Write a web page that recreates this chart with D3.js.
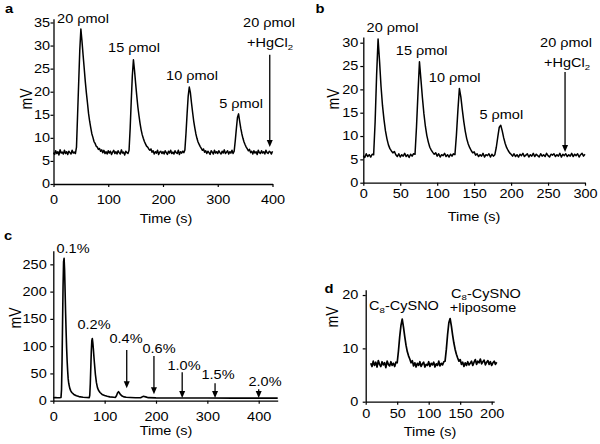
<!DOCTYPE html>
<html><head><meta charset="utf-8">
<script src="https://cdn.jsdelivr.net/npm/d3@7"></script>
<style>
body{margin:0;background:#fff}
svg{display:block}
text{font-family:"Liberation Sans",Arial,Helvetica,sans-serif;fill:#000}
</style>
</head><body>
<svg id="fig" width="600" height="444"></svg>
<script>
// ---------------- DATA ----------------
// Panel a: sampling every 2 s from 0 to 400 s (mV)
const aStart = 0, aStep = 2;
const aValues = [
 6.8,6.4,7.2,6.6,7.0,6.3,7.4,6.7,6.9,6.5,
 7.3,6.6,7.0,6.4,7.1,6.8,6.5,7.3,6.7,6.9,
 6.6,8.0,15.0,22.0,29.0,33.6,31.0,28.0,25.2,22.3,
 19.8,17.6,15.3,13.6,12.2,10.9,10.1,9.2,8.8,8.2,
 8.0,7.5,7.7,7.1,7.4,6.8,7.3,6.6,7.0,6.5,
 7.2,6.7,7.1,6.4,6.9,7.3,6.6,7.0,6.5,7.2,
 6.8,6.5,7.4,6.7,6.9,6.3,7.1,6.8,6.6,7.3,
 12.0,18.0,23.5,26.9,24.6,21.8,19.2,16.8,14.9,13.2,
 11.8,10.7,9.9,9.2,8.7,8.2,8.0,7.6,7.3,7.6,
 6.9,7.2,6.5,7.0,6.7,7.3,6.4,6.9,7.1,6.6,
 7.0,6.5,7.2,6.8,6.4,7.1,6.7,7.3,6.6,6.9,
 6.5,7.2,6.8,6.6,7.3,6.4,7.0,6.7,7.1,6.8,
 7.4,11.0,15.2,19.0,21.0,19.8,17.6,15.6,13.7,12.2,
 10.9,9.9,9.1,8.6,8.1,7.7,7.3,7.6,6.9,7.2,
 6.6,7.1,6.8,6.4,7.2,6.9,6.5,7.3,6.7,7.0,
 6.6,7.2,6.8,6.5,7.1,6.7,7.4,6.6,6.9,7.2,
 6.5,7.0,6.7,7.3,6.6,7.1,9.4,12.0,14.4,15.2,
 13.6,12.1,10.9,9.9,9.1,8.5,8.0,7.6,7.2,7.5,
 6.8,7.1,6.5,7.2,6.7,7.0,6.4,7.3,6.8,6.6,
 7.2,6.7,7.0,6.5,7.3,6.8,6.6,7.1,6.9,6.5,
 7.1
];
const aXTicks = [0,100,200,300,400];
const aYTicks = [0,5,10,15,20,25,30,35];
const aPeakLabels = ["20 ρmol","15 ρmol","10 ρmol","5 ρmol"];
const aArrowTime = [395], aArrowTop = [28], aArrowTip = [8];

// Panel b: sampling every 2 s from 0 to 300 s (mV)
const bStart = 0, bStep = 2;
const bValues = [
 5.8,5.4,6.2,5.6,6.0,5.5,6.1,6.0,13.0,23.0,
 30.8,26.0,20.6,16.5,13.5,11.1,9.4,8.1,7.3,6.8,
 6.4,6.7,6.0,5.6,6.2,5.5,6.0,5.7,6.3,5.6,
 6.0,5.4,6.1,5.7,6.2,6.1,12.0,19.2,25.9,22.1,
 18.2,14.8,12.1,10.1,8.7,7.6,7.0,6.5,6.1,6.4,
 5.7,6.2,5.5,6.0,5.8,6.3,5.6,6.0,5.5,6.1,
 5.7,6.2,6.0,10.2,15.5,20.2,18.4,15.6,13.1,11.0,
 9.4,8.3,7.5,6.9,6.4,6.6,5.9,6.2,5.6,6.0,
 5.7,6.3,5.5,6.0,5.8,6.2,5.5,6.1,5.7,6.0,
 7.6,9.8,11.9,12.3,11.1,9.6,8.4,7.5,6.9,6.4,
 6.1,5.7,6.2,5.6,6.0,5.5,6.1,5.8,6.3,5.6,
 5.9,6.2,5.5,6.0,5.7,6.3,5.6,6.1,5.8,5.5,
 6.2,5.7,6.0,5.6,6.3,5.8,5.5,6.1,5.9,6.2,
 5.6,6.0,5.7,6.3,5.5,6.1,5.8,6.2,5.6,6.0,
 5.7,6.3,5.6,6.1,5.8,6.2,5.5,6.0,6.3,5.7,
 6.1
];
const bXTicks = [0,50,100,150,200,250,300];
const bYTicks = [0,5,10,15,20,25,30];
const bPeakLabels = ["20 ρmol","15 ρmol","10 ρmol","5 ρmol"];
const bArrowTime = [273], bArrowTop = [23.7], bArrowTip = [6.6];

// Panel c: (time s, mV)
const cTime = [0,4,8,12,15,16,17,18,19,20,21,22,23,24,25,26,27,28,29,30,
 32,34,36,40,45,50,58,65,70,71,72,73,74,75,76,77,78,79,80,
 82,84,86,88,91,95,100,105,110,118,121,123,125,127,129,131,134,138,142,150,
 160,170,175,180,185,200,250,300,350,400,437];
const cMV = [5.5,5.6,5.4,5.5,6,20,70,140,210,255,261,240,200,160,125,95,72,54,40,32,
 23,18,15,11.5,9,7.5,6.3,5.8,5.6,10,30,60,90,110,114,106,95,82,70,
 48,33,24,19,15,11.5,9.5,8,7,6.3,6,9,14,16.5,14,11,8.5,7,6.2,5.8,
 5.5,5.4,8,7,5.6,5.2,5,5,4.8,4.8,4.8];
const cXTicks = [0,100,200,300,400];
const cYTicks = [0,50,100,150,200,250];
const cLabels = ["0.1%","0.2%","0.4%","0.6%","1.0%","1.5%","2.0%"];
const cArrowTime = [143,196,251,315,400];
const cArrowTop  = [93,82,52,32,21];
const cArrowTip  = [23,12,5,5,5];

// Panel d: sampling every 2 s from 8 to 208 s (mV)
const dStart = 8, dStep = 2;
const dValues = [
 7.2,6.6,7.6,6.8,7.4,6.5,7.7,7.0,6.6,7.5,
 6.9,7.3,6.4,7.6,7.0,6.7,7.5,6.8,7.2,6.6,
 7.4,7.3,9.5,12.2,14.3,15.5,14.0,12.2,10.6,9.4,
 8.6,8.0,7.3,7.7,6.7,7.3,6.5,7.2,6.8,7.5,
 6.6,7.1,7.4,6.5,7.0,6.8,7.5,6.6,7.2,6.9,
 7.4,6.5,7.1,6.8,7.6,6.7,7.2,6.9,7.5,7.6,
 9.8,12.6,14.8,15.6,14.2,12.5,11.0,9.8,8.9,8.2,
 7.6,7.9,7.0,7.4,6.6,7.3,6.8,7.5,6.9,7.2,
 7.6,6.8,7.4,7.9,7.0,7.6,7.3,8.0,7.1,7.5,
 7.8,6.9,7.4,7.7,7.0,7.5,6.8,7.3,7.6,7.0,
 7.4
];
const dXTicks = [0,50,100,150,200];
const dYTicks = [0,10,20];

// ---------------- DRAWING ----------------
const SX = 1.18;          // horizontal stretch of the original figure's lettering
const FS = 12.3;
const svg = d3.select("#fig");

function seq(start, step, vals){ return vals.map((v,i)=>[start+i*step, v]); }

// stretched text; parts = [[string, isSub], ...]
function label(g, x, y, parts, opt={}){
  const t = g.append("g").attr("transform",`translate(${x},${y})`)
    .append("text")
    .attr("transform", opt.rotate ? `scale(${SX},1) rotate(-90)` : `scale(${SX},1)`)
    .attr("text-anchor", opt.anchor || "middle")
    .attr("font-size", opt.size || FS)
    .attr("font-weight", opt.bold ? "bold" : "normal");
  if (opt.rotate) t.attr("dy","0.35em");
  (typeof parts === "string" ? [[parts,false]] : parts).forEach((p,i,arr)=>{
    const ts = t.append("tspan").text(p[0]);
    if (p[1]) ts.attr("font-size", (opt.size||FS)*0.66).attr("dy", 2.5);
    else if (i>0 && arr[i-1][1]) ts.attr("dy", -2.5);
  });
  return t;
}

function arrow(g, x, yTop, yTip){
  g.append("line").attr("x1",x).attr("x2",x).attr("y1",yTop).attr("y2",yTip-5)
    .attr("stroke","#000").attr("stroke-width",1.3);
  g.append("path").attr("d",`M${x-3},${yTip-7}L${x+3},${yTip-7}L${x},${yTip}Z`).attr("fill","#000");
}

function panel(cfg){
  const x = d3.scaleLinear().domain(cfg.xd).range(cfg.xr);
  const y = d3.scaleLinear().domain(cfg.yd).range(cfg.yr);
  const g = svg.append("g");

  const xa = g.append("g").attr("transform",`translate(0,${cfg.yr[0]})`)
    .call(d3.axisBottom(x).tickValues(cfg.xt).tickSize(3).tickSizeOuter(0).tickPadding(cfg.xpad));
  const ya = g.append("g").attr("transform",`translate(${cfg.xr[0]},0)`)
    .call(d3.axisLeft(y).tickValues(cfg.yt).tickSize(3).tickSizeOuter(0).tickPadding(cfg.ypad));
  [xa,ya].forEach(a=>{
    a.attr("font-size",null).attr("font-family",null);
    a.selectAll("path.domain").attr("stroke","#000").attr("stroke-width",1.3);
    a.selectAll(".tick line").attr("stroke","#000").attr("stroke-width",1.2);
    a.selectAll(".tick text").attr("font-size",FS).attr("fill","#000")
      .attr("transform",`scale(${SX},1)`)
      .attr("x", function(){ const v=this.getAttribute("x"); return v===null?null:(+v)/SX; });
  });

  const line = d3.line().x(d=>x(d[0])).y(d=>y(d[1]));
  g.append("path").datum(cfg.data).attr("d",line)
    .attr("fill","none").attr("stroke","#000").attr("stroke-width",cfg.lw||1.5)
    .attr("stroke-linejoin","round");

  (cfg.arrows||[]).forEach(a=>arrow(g, x(a[0]), y(a[1]), y(a[2])));

  label(g, cfg.ylab[0], cfg.ylab[1], "mV", {rotate:true, size:14});
  label(g, cfg.xlab[0], cfg.xlab[1], "Time (s)");
  label(g, cfg.letter[0], cfg.letter[1], cfg.letter[2], {bold:true, size:12.5});
  return {g,x,y};
}

// Panel a
const pa = panel({
  data: seq(aStart,aStep,aValues), xd:[0,400], xr:[53.5,272.5], yd:[0,35.8], yr:[184,18.8],
  xt:aXTicks, yt:aYTicks, xpad:8, ypad:0.5,
  arrows: aArrowTime.map((t,i)=>[t,aArrowTop[i],aArrowTip[i]]),
  ylab:[26,99], xlab:[166,222.5], letter:[9,13,"a"]
});
[[83,23],[134,52],[192,80],[241,108]].forEach((p,i)=>label(pa.g,p[0],p[1],aPeakLabels[i]));
label(pa.g,269,27,"20 ρmol");
label(pa.g,270,47,[["+HgCl",false],["2",true]]);

// Panel b
const pb = panel({
  data: seq(bStart,bStep,bValues), xd:[0,300], xr:[363.3,585], yd:[0,31.2], yr:[182.7,37.1],
  xt:bXTicks, yt:bYTicks, xpad:4, ypad:2,
  arrows: bArrowTime.map((t,i)=>[t,bArrowTop[i],bArrowTip[i]]),
  ylab:[333,99], xlab:[474,221], letter:[320,13,"b"]
});
[[392.5,32],[421.7,55],[454.7,82],[501.3,119]].forEach((p,i)=>label(pb.g,p[0],p[1],bPeakLabels[i]));
label(pb.g,566,47,"20 ρmol");
label(pb.g,567,67,[["+HgCl",false],["2",true]]);

// Panel c
const pc = panel({
  data: cTime.map((t,i)=>[t,cMV[i]]), xd:[0,437], xr:[53.3,277.7], yd:[0,275], yr:[400.7,250.7],
  xt:cXTicks, yt:cYTicks, xpad:9, ypad:3.6, lw:1.6,
  arrows: cArrowTime.map((t,i)=>[t,cArrowTop[i],cArrowTip[i]]),
  ylab:[15,318], xlab:[166,435], letter:[8,240,"c"]
});
[[73,253],[94,329],[126,343],[159,353],[184,370],[218,378.5],[265,385.5]]
  .forEach((p,i)=>label(pc.g,p[0],p[1],cLabels[i]));

// Panel d
const pd = panel({
  data: seq(dStart,dStep,dValues), xd:[0,204], xr:[365.7,494.2], yd:[0,21], yr:[401.7,289.7],
  xt:dXTicks, yt:dYTicks, xpad:5, ypad:4.4, lw:1.7,
  ylab:[332,317], xlab:[430,436], letter:[329,293,"d"]
});
label(pd.g,404,310,[["C",false],["8",true],["-CySNO",false]]);
label(pd.g,486,297.5,[["C",false],["8",true],["-CySNO",false]]);
label(pd.g,483,312,"+liposome");
</script>
</body></html>
